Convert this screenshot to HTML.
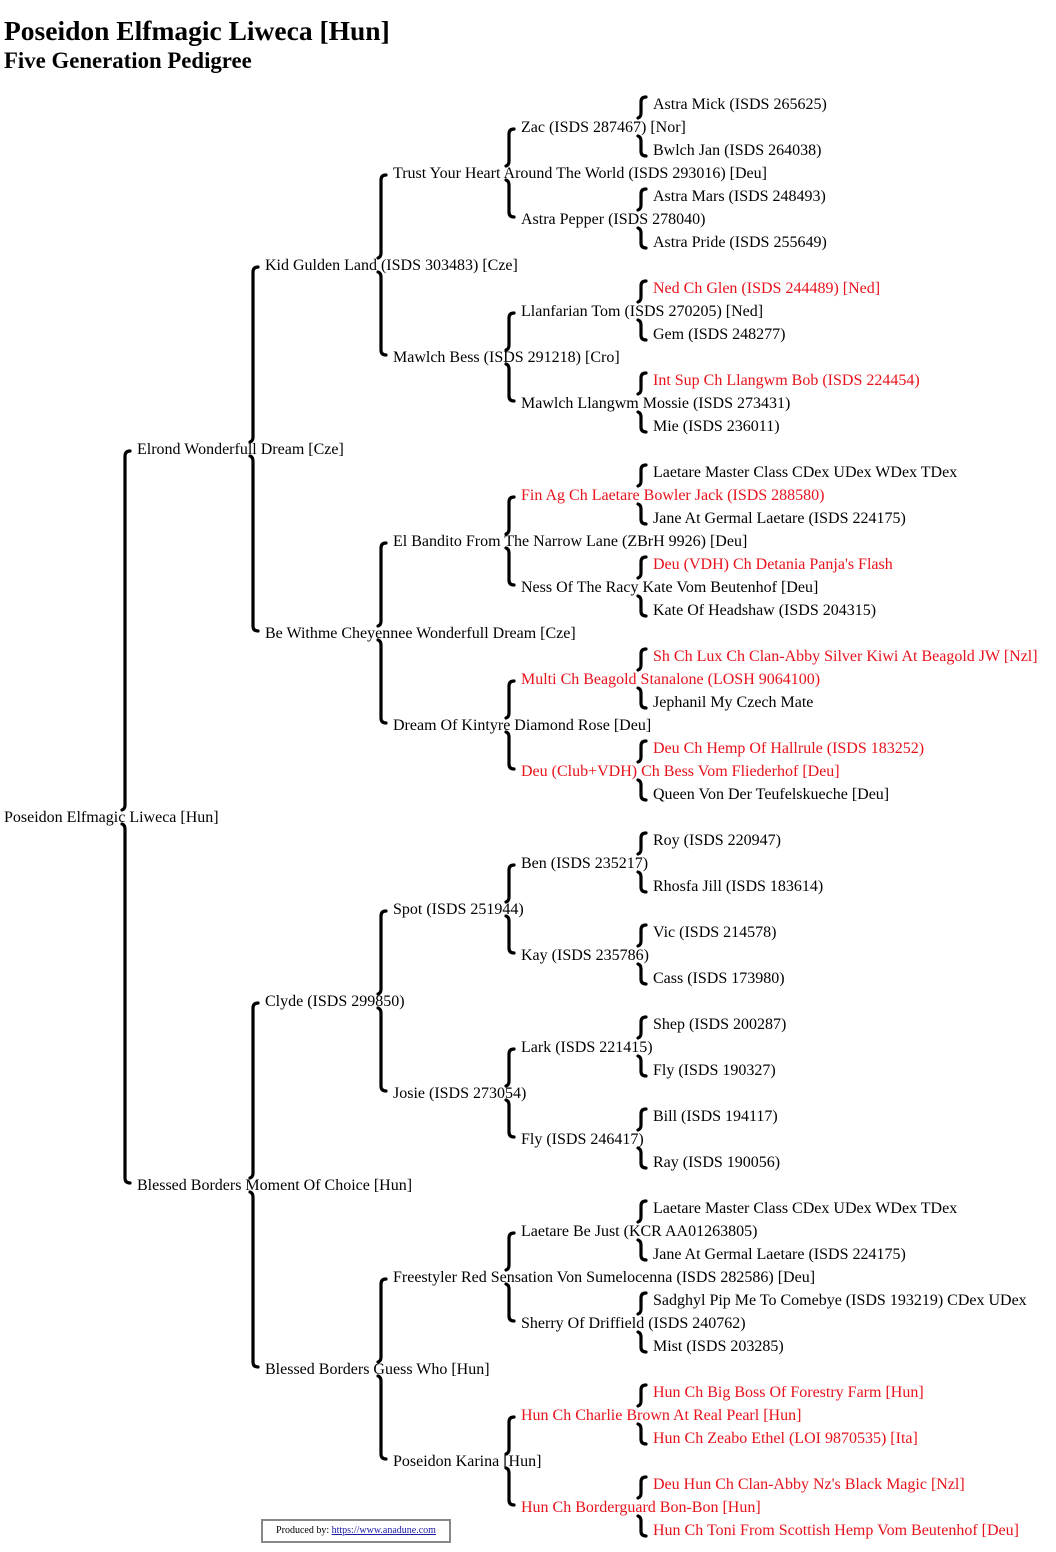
<!DOCTYPE html>
<html><head><meta charset="utf-8"><style>
html,body{margin:0;padding:0;background:#fff;}
body{width:1056px;height:1552px;position:relative;overflow:hidden;font-family:"Liberation Serif",serif;}
h1{position:absolute;left:4px;top:15px;margin:0;font-size:27.5px;line-height:32px;font-weight:bold;}
h2{position:absolute;left:4px;top:48px;margin:0;font-size:22.8px;line-height:26px;font-weight:bold;}
.t{position:absolute;font-size:16px;line-height:18px;white-space:nowrap;color:#000;margin-top:1px;}
.r{color:#e8121c;}
svg{position:absolute;left:0;top:0;}
.pb{position:absolute;left:261px;top:1519px;width:186px;height:20px;border:2px solid #888;font-size:10px;line-height:20px;text-align:center;}
.pb a{color:#1a1aa6;text-decoration:underline;}
</style></head><body>
<h1>Poseidon Elfmagic Liweca [Hun]</h1>
<h2>Five Generation Pedigree</h2>
<svg id="s" width="1056" height="1552"></svg>
<div class="t" style="left:653px;top:95px">Astra Mick (ISDS 265625)</div>
<div class="t" style="left:521px;top:118px">Zac (ISDS 287467) [Nor]</div>
<div class="t" style="left:653px;top:141px">Bwlch Jan (ISDS 264038)</div>
<div class="t" style="left:393px;top:164px">Trust Your Heart Around The World (ISDS 293016) [Deu]</div>
<div class="t" style="left:653px;top:187px">Astra Mars (ISDS 248493)</div>
<div class="t" style="left:521px;top:210px">Astra Pepper (ISDS 278040)</div>
<div class="t" style="left:653px;top:233px">Astra Pride (ISDS 255649)</div>
<div class="t" style="left:265px;top:256px">Kid Gulden Land (ISDS 303483) [Cze]</div>
<div class="t r" style="left:653px;top:279px">Ned Ch Glen (ISDS 244489) [Ned]</div>
<div class="t" style="left:521px;top:302px">Llanfarian Tom (ISDS 270205) [Ned]</div>
<div class="t" style="left:653px;top:325px">Gem (ISDS 248277)</div>
<div class="t" style="left:393px;top:348px">Mawlch Bess (ISDS 291218) [Cro]</div>
<div class="t r" style="left:653px;top:371px">Int Sup Ch Llangwm Bob (ISDS 224454)</div>
<div class="t" style="left:521px;top:394px">Mawlch Llangwm Mossie (ISDS 273431)</div>
<div class="t" style="left:653px;top:417px">Mie (ISDS 236011)</div>
<div class="t" style="left:137px;top:440px">Elrond Wonderfull Dream [Cze]</div>
<div class="t" style="left:653px;top:463px">Laetare Master Class CDex UDex WDex TDex</div>
<div class="t r" style="left:521px;top:486px">Fin Ag Ch Laetare Bowler Jack (ISDS 288580)</div>
<div class="t" style="left:653px;top:509px">Jane At Germal Laetare (ISDS 224175)</div>
<div class="t" style="left:393px;top:532px">El Bandito From The Narrow Lane (ZBrH 9926) [Deu]</div>
<div class="t r" style="left:653px;top:555px">Deu (VDH) Ch Detania Panja's Flash</div>
<div class="t" style="left:521px;top:578px">Ness Of The Racy Kate Vom Beutenhof [Deu]</div>
<div class="t" style="left:653px;top:601px">Kate Of Headshaw (ISDS 204315)</div>
<div class="t" style="left:265px;top:624px">Be Withme Cheyennee Wonderfull Dream [Cze]</div>
<div class="t r" style="left:653px;top:647px">Sh Ch Lux Ch Clan-Abby Silver Kiwi At Beagold JW [Nzl]</div>
<div class="t r" style="left:521px;top:670px">Multi Ch Beagold Stanalone (LOSH 9064100)</div>
<div class="t" style="left:653px;top:693px">Jephanil My Czech Mate</div>
<div class="t" style="left:393px;top:716px">Dream Of Kintyre Diamond Rose [Deu]</div>
<div class="t r" style="left:653px;top:739px">Deu Ch Hemp Of Hallrule (ISDS 183252)</div>
<div class="t r" style="left:521px;top:762px">Deu (Club+VDH) Ch Bess Vom Fliederhof [Deu]</div>
<div class="t" style="left:653px;top:785px">Queen Von Der Teufelskueche [Deu]</div>
<div class="t" style="left:4px;top:808px">Poseidon Elfmagic Liweca [Hun]</div>
<div class="t" style="left:653px;top:831px">Roy (ISDS 220947)</div>
<div class="t" style="left:521px;top:854px">Ben (ISDS 235217)</div>
<div class="t" style="left:653px;top:877px">Rhosfa Jill (ISDS 183614)</div>
<div class="t" style="left:393px;top:900px">Spot (ISDS 251944)</div>
<div class="t" style="left:653px;top:923px">Vic (ISDS 214578)</div>
<div class="t" style="left:521px;top:946px">Kay (ISDS 235786)</div>
<div class="t" style="left:653px;top:969px">Cass (ISDS 173980)</div>
<div class="t" style="left:265px;top:992px">Clyde (ISDS 299850)</div>
<div class="t" style="left:653px;top:1015px">Shep (ISDS 200287)</div>
<div class="t" style="left:521px;top:1038px">Lark (ISDS 221415)</div>
<div class="t" style="left:653px;top:1061px">Fly (ISDS 190327)</div>
<div class="t" style="left:393px;top:1084px">Josie (ISDS 273054)</div>
<div class="t" style="left:653px;top:1107px">Bill (ISDS 194117)</div>
<div class="t" style="left:521px;top:1130px">Fly (ISDS 246417)</div>
<div class="t" style="left:653px;top:1153px">Ray (ISDS 190056)</div>
<div class="t" style="left:137px;top:1176px">Blessed Borders Moment Of Choice [Hun]</div>
<div class="t" style="left:653px;top:1199px">Laetare Master Class CDex UDex WDex TDex</div>
<div class="t" style="left:521px;top:1222px">Laetare Be Just (KCR AA01263805)</div>
<div class="t" style="left:653px;top:1245px">Jane At Germal Laetare (ISDS 224175)</div>
<div class="t" style="left:393px;top:1268px">Freestyler Red Sensation Von Sumelocenna (ISDS 282586) [Deu]</div>
<div class="t" style="left:653px;top:1291px">Sadghyl Pip Me To Comebye (ISDS 193219) CDex UDex</div>
<div class="t" style="left:521px;top:1314px">Sherry Of Driffield (ISDS 240762)</div>
<div class="t" style="left:653px;top:1337px">Mist (ISDS 203285)</div>
<div class="t" style="left:265px;top:1360px">Blessed Borders Guess Who [Hun]</div>
<div class="t r" style="left:653px;top:1383px">Hun Ch Big Boss Of Forestry Farm [Hun]</div>
<div class="t r" style="left:521px;top:1406px">Hun Ch Charlie Brown At Real Pearl [Hun]</div>
<div class="t r" style="left:653px;top:1429px">Hun Ch Zeabo Ethel (LOI 9870535) [Ita]</div>
<div class="t" style="left:393px;top:1452px">Poseidon Karina [Hun]</div>
<div class="t r" style="left:653px;top:1475px">Deu Hun Ch Clan-Abby Nz's Black Magic [Nzl]</div>
<div class="t r" style="left:521px;top:1498px">Hun Ch Borderguard Bon-Bon [Hun]</div>
<div class="t r" style="left:653px;top:1521px">Hun Ch Toni From Scottish Hemp Vom Beutenhof [Deu]</div>
<div class="pb">Produced by: <a>https://www.anadune.com</a></div>
<script>
(function(){
var s=document.getElementById('s'),ns='http://www.w3.org/2000/svg',d='';
var bx=[125,253,381,509,641];
function Y(i){return 104+23*i;}
function rec(row,g){
  if(g>=5)return;
  var step=1<<(4-g); var x=bx[g]; var py=Y(row);
  var up=Y(row-step), dn=Y(row+step);
  var a,b,c,e;
  if(g==4){a=up-7;b=py-10;c=py+10;e=dn+6;}
  else{a=up+2;b=py-8;c=py+8;e=dn-2;}
  d+='M'+(x+5)+','+a+' Q'+x+','+a+' '+x+','+(a+5)+' L'+x+','+(b-4)+' Q'+x+','+b+' '+(x-3)+','+(b+1)+' ';
  d+='M'+(x-3)+','+(c-1)+' Q'+x+','+c+' '+x+','+(c+4)+' L'+x+','+(e-5)+' Q'+x+','+e+' '+(x+5)+','+e+' ';
  rec(row-step,g+1); rec(row+step,g+1);
}
rec(31,0);
var p=document.createElementNS(ns,'path');
p.setAttribute('d',d);p.setAttribute('fill','none');p.setAttribute('stroke','#000');
p.setAttribute('stroke-width','3.2');p.setAttribute('stroke-linecap','round');
s.appendChild(p);
})();
</script>
</body></html>
